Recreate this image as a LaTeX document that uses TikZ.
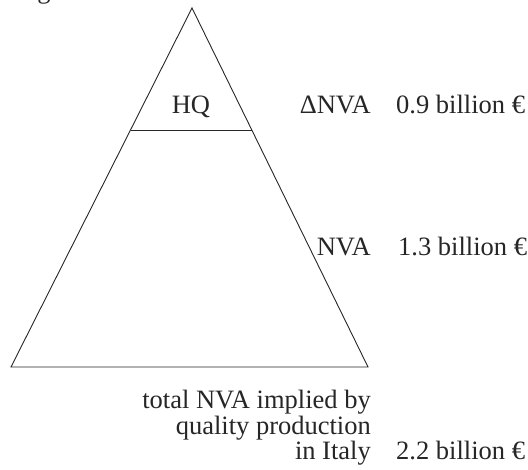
\documentclass[tikz,border=0pt]{standalone}
\usepackage{fontspec}
\setmainfont{Liberation Serif}
\begin{document}
\begin{tikzpicture}[x=1pt,y=-1pt,
  edge/.style={line width=0.9pt, draw=black!85},
  lbl/.style={font=\fontsize{26.5}{26}\selectfont, inner sep=0pt, text=black!85}]
\useasboundingbox (0,0) rectangle (528,470);
% triangle vertices
\coordinate (apex) at (192,8);
\coordinate (bl) at (11,367);
\coordinate (br) at (368,367);
\coordinate (hl) at (130.5,130);
\coordinate (hr) at (252,130);
\draw[edge, line join=miter] (apex) -- (br) -- (bl) -- cycle;
\draw[edge] (hl) -- (hr);
% fragment of caption above
\node[lbl, anchor=base] (cap) at (44,-1) {g};
% labels
\node[lbl, anchor=base] (hq) at (191,114) {HQ};
\node[lbl, anchor=base east] (dnva) at (371,114) {ΔNVA};
\node[lbl, anchor=base west] (v1) at (396,114) {0.9 billion €};
\node[lbl, anchor=base east] (nva) at (371,256) {NVA};
\node[lbl, anchor=base west] (v2) at (398,256) {1.3 billion €};
\node[lbl, anchor=base east] (tot1) at (371,409) {total NVA implied by};
\node[lbl, anchor=base east] (tot2) at (371,435) {quality production};
\node[lbl, anchor=base east] (tot3) at (371,460) {in Italy};
\node[lbl, anchor=base west] (v3) at (396,460) {2.2 billion €};
\end{tikzpicture}
\end{document}
